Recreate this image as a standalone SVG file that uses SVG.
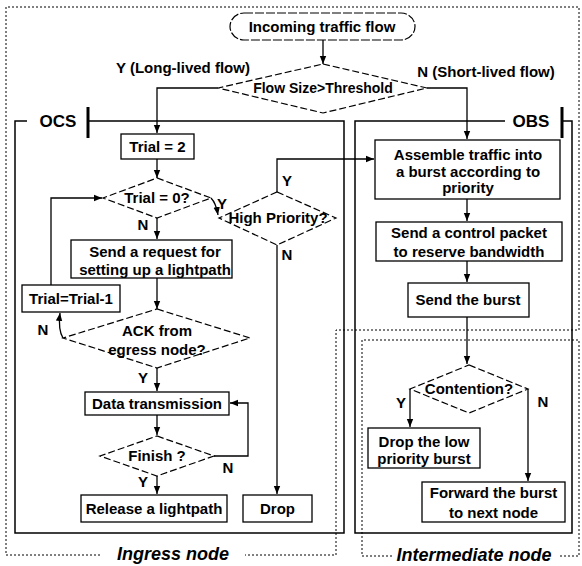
<svg xmlns="http://www.w3.org/2000/svg" width="582" height="566" viewBox="0 0 582 566">
<defs>
<style>
.t{font-family:"Liberation Sans",Arial,sans-serif;font-weight:bold;font-size:15px;text-anchor:middle;fill:#000}
.lbl{font-family:"Liberation Sans",Arial,sans-serif;font-weight:bold;font-size:15px;text-anchor:middle;fill:#000}
.reg{font-family:"Liberation Sans",Arial,sans-serif;font-weight:bold;font-style:italic;font-size:18px;text-anchor:middle;fill:#000}
.frm{font-family:"Liberation Sans",Arial,sans-serif;font-weight:bold;font-size:17px;text-anchor:middle;fill:#000}
.box{fill:#fff;stroke:#000;stroke-width:1.3}
.dia{fill:#fff;stroke:#000;stroke-width:1.2;stroke-dasharray:7 3}
.term{fill:#fff;stroke:#000;stroke-width:1.2;stroke-dasharray:9 2}
.conn{fill:none;stroke:#000;stroke-width:1.3}
.dot{fill:none;stroke:#000;stroke-width:1;stroke-dasharray:2 2}
.frame{fill:none;stroke:#000;stroke-width:1.5}
.bar{stroke:#000;stroke-width:3}
</style>
<marker id="ah" viewBox="0 0 10 10" refX="10" refY="5" markerWidth="8" markerHeight="8" markerUnits="userSpaceOnUse" orient="auto"><path d="M0,1 L10,5 L0,9 z" fill="#000"/></marker>
</defs>
<rect width="582" height="566" fill="#fff"/>

<g id="regions">
<path class="dot" d="M100,555 H6 V7 H579 V330 H336 V555 H245"/>
<text class="reg" x="173" y="560">Ingress node</text>
<path class="dot" d="M392,556 H362 V340 H579 V556 H558"/>
<text class="reg" x="474" y="561">Intermediate node</text>
</g>

<g id="ocs-frame">
<path class="frame" d="M27,121 H15 V533 H344 V121 H88"/>
<line class="bar" x1="88" y1="107" x2="88" y2="138"/>
<text class="frm" x="58" y="127">OCS</text>
</g>
<g id="obs-frame">
<path class="frame" d="M505,121 H355 V533 H572 V121 H562"/>
<line class="bar" x1="562" y1="107" x2="562" y2="138"/>
<text class="frm" x="531" y="127">OBS</text>
</g>

<g id="connectors">
<path class="conn" d="M323,40 V64" marker-end="url(#ah)"/>
<path class="conn" d="M218,88 H157 V133" marker-end="url(#ah)"/>
<path class="conn" d="M427,88 H467 V139" marker-end="url(#ah)"/>
<path class="conn" d="M157,159 V178" marker-end="url(#ah)"/>
<path class="conn" d="M211,198 Q216,203 218,215" marker-end="url(#ah)"/>
<path class="conn" d="M277,192 V159 H374" marker-end="url(#ah)"/>
<path class="conn" d="M277,245 V494" marker-end="url(#ah)"/>
<path class="conn" d="M157,218 V239" marker-end="url(#ah)"/>
<path class="conn" d="M157,278 V309" marker-end="url(#ah)"/>
<path class="conn" d="M63,338 Q58,330 60,313" marker-end="url(#ah)"/>
<path class="conn" d="M51,285 V198 H102" marker-end="url(#ah)"/>
<path class="conn" d="M157,368 V391" marker-end="url(#ah)"/>
<path class="conn" d="M157,415 V435" marker-end="url(#ah)"/>
<path class="conn" d="M214,456 H248 V403 H230" marker-end="url(#ah)"/>
<path class="conn" d="M157,476 V494" marker-end="url(#ah)"/>
<path class="conn" d="M467,199 V221" marker-end="url(#ah)"/>
<path class="conn" d="M467,261 V282" marker-end="url(#ah)"/>
<path class="conn" d="M467,317 V364" marker-end="url(#ah)"/>
<path class="conn" d="M410,389 V427" marker-end="url(#ah)"/>
<path class="conn" d="M528,389 V481" marker-end="url(#ah)"/>
<text class="lbl" x="183" y="73">Y (Long-lived flow)</text>
<text class="lbl" x="486" y="77">N (Short-lived flow)</text>
<text class="lbl" x="222" y="209">Y</text>
<text class="lbl" x="287" y="186">Y</text>
<text class="lbl" x="287" y="260">N</text>
<text class="lbl" x="143" y="230">N</text>
<text class="lbl" x="43" y="335">N</text>
<text class="lbl" x="143" y="383">Y</text>
<text class="lbl" x="228" y="473">N</text>
<text class="lbl" x="143" y="487">Y</text>
<text class="lbl" x="401" y="408">Y</text>
<text class="lbl" x="543" y="407">N</text>
</g>

<g id="incoming">
<rect class="term" x="230" y="13" width="185" height="27" rx="14" ry="13.5"/>
<text class="t" x="322" y="32">Incoming traffic flow</text>
</g>
<g id="flow-size">
<polygon class="dia" points="323,64 427,88 323,113 218,88"/>
<text class="t" x="323" y="93" style="font-size:14px">Flow Size&gt;Threshold</text>
</g>
<g id="trial2">
<rect class="box" x="121" y="134" width="73" height="25"/>
<text class="t" x="157.5" y="152">Trial = 2</text>
</g>
<g id="trial0">
<polygon class="dia" points="157,178 211,198 157,218 103,198"/>
<text class="t" x="157" y="203">Trial = 0?</text>
</g>
<g id="high-priority">
<polygon class="dia" points="277,192 336,218 277,245 219,218"/>
<text class="t" x="278" y="223">High Priority?</text>
</g>
<g id="drop">
<rect class="box" x="243" y="495" width="69" height="27"/>
<text class="t" x="277.5" y="514">Drop</text>
</g>
<g id="send-request">
<rect class="box" x="71" y="240" width="161" height="38"/>
<text class="t" x="155" y="257">Send a request for</text>
<text class="t" x="155" y="275">setting up a lightpath</text>
</g>
<g id="ack">
<polygon class="dia" points="157,309 250,338 157,368 63,338"/>
<text class="t" x="157" y="336">ACK from</text>
<text class="t" x="157" y="355">egress node?</text>
</g>
<g id="trial-dec">
<rect class="box" x="22" y="285" width="98" height="27"/>
<text class="t" x="71" y="304">Trial=Trial-1</text>
</g>
<g id="data-tx">
<rect class="box" x="85" y="392" width="144" height="23"/>
<text class="t" x="157" y="409">Data transmission</text>
</g>
<g id="finish">
<polygon class="dia" points="157,436 214,456 157,476 100,456"/>
<text class="t" x="157" y="461">Finish ?</text>
</g>
<g id="release">
<rect class="box" x="81" y="495" width="146" height="27"/>
<text class="t" x="154" y="514">Release a lightpath</text>
</g>
<g id="assemble">
<rect class="box" x="375" y="140" width="185" height="59"/>
<text class="t" x="468" y="160">Assemble traffic into</text>
<text class="t" x="468" y="177">a burst according to</text>
<text class="t" x="468" y="193">priority</text>
</g>
<g id="control">
<rect class="box" x="376" y="222" width="186" height="39"/>
<text class="t" x="469" y="238">Send a control packet</text>
<text class="t" x="469" y="257">to reserve bandwidth</text>
</g>
<g id="send-burst">
<rect class="box" x="408" y="283" width="121" height="34"/>
<text class="t" x="468" y="305">Send the burst</text>
</g>
<g id="contention">
<polygon class="dia" points="469,365 528,389 469,413 410,389"/>
<text class="t" x="469" y="394">Contention?</text>
</g>
<g id="drop-low">
<rect class="box" x="368" y="428" width="112" height="40"/>
<text class="t" x="424" y="447">Drop the low</text>
<text class="t" x="424" y="464">priority burst</text>
</g>
<g id="forward">
<rect class="box" x="422" y="482" width="143" height="40"/>
<text class="t" x="493.5" y="498">Forward the burst</text>
<text class="t" x="493.5" y="518">to next node</text>
</g>
</svg>
